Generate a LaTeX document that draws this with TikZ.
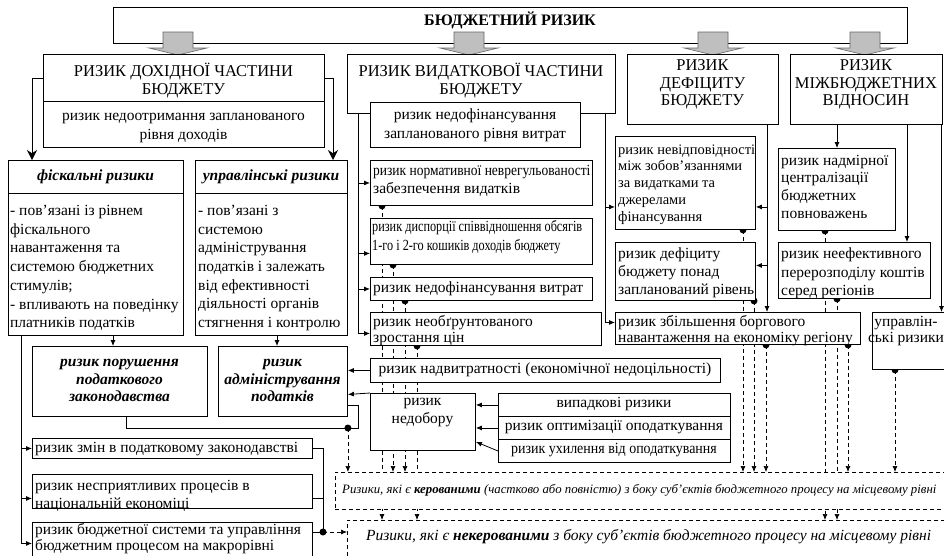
\documentclass[tikz,border=0pt]{standalone}
\usepackage{fontspec}
\setmainfont{Liberation Serif}
\usetikzlibrary{arrows.meta}
\pgfdeclarelayer{bg}
\pgfsetlayers{bg,main}
\newcommand\myfs[2]{\fontsize{#1}{#2}\selectfont}
\tikzset{
  bx/.style={draw=black, fill=white, line width=0.9pt, inner sep=0pt, anchor=north west},
  dbx/.style={bx, dash pattern=on 4pt off 3pt, line width=0.8pt},
  txl/.style={inner sep=0pt, anchor=west, align=left, font=\myfs{15.5}{18.5}},
  txc/.style={inner sep=0pt, anchor=center, align=center, font=\myfs{15.5}{18.5}},
  hd/.style={inner sep=0pt, anchor=center, align=center, font=\myfs{16.5}{17.5}},
  bi/.style={font=\bfseries\itshape\myfs{15.5}{17.5}},
  ln/.style={line width=0.8pt},
  arr/.style={ln, -{Latex[length=6pt,width=5pt]}},
  bigarr/.style={ln, -{Stealth[length=10pt,width=10pt]}},
  dln/.style={line width=0.7pt, dash pattern=on 4pt off 3pt},
  darr/.style={dln, -{Latex[length=6pt,width=5pt]}},
  blk/.style={fill=black!25, draw=black!60, line width=0.6pt},
}
\begin{document}
\begin{tikzpicture}[x=1pt,y=-1pt]
\useasboundingbox (0,0) rectangle (944,555);
\begin{pgfonlayer}{bg}
\fill[white] (0,0) rectangle (944,555);
\end{pgfonlayer}

% top box and block arrows
\node[bx, minimum width=794pt, minimum height=36pt] (T) at (113,7) {};
\foreach \cx in {178,469,713,865}
  \draw[blk] (\cx-15,32) -- (\cx+15,32) -- (\cx+15,48) -- (\cx+29,48) -- (\cx,55) -- (\cx-29,48) -- (\cx-15,48) -- cycle;

% level 2 boxes
\node[bx, minimum width=281pt, minimum height=47pt] (A) at (43,54) {};
\node[bx, minimum width=281pt, minimum height=46pt] (A2) at (43,101) {};
\node[bx, minimum width=268pt, minimum height=59pt] (B) at (347,54) {};
\node[bx, minimum width=210pt, minimum height=45pt] (B2) at (370,102) {};
\node[bx, minimum width=151pt, minimum height=70pt] (D) at (627,54) {};
\node[bx, minimum width=151.5pt, minimum height=70pt] (M) at (790,54) {};

% income side
\node[bx, minimum width=175pt, minimum height=33pt] (F1) at (8,160) {};
\node[bx, minimum width=175pt, minimum height=142pt] (F2) at (8,193) {};
\node[bx, minimum width=152pt, minimum height=33pt] (G1) at (195,160) {};
\node[bx, minimum width=152pt, minimum height=142pt] (G2) at (195,193) {};
\node[bx, minimum width=175pt, minimum height=70pt] (P) at (32,346) {};
\node[bx, minimum width=129pt, minimum height=70pt] (Q) at (218,346) {};
\node[bx, minimum width=280pt, minimum height=20pt] (L1) at (32,438) {};
\node[bx, minimum width=280pt, minimum height=34pt] (L2) at (32,474) {};
\node[bx, minimum width=280pt, minimum height=40pt] (L3) at (32,522) {};

% expenditure side
\node[bx, minimum width=222pt, minimum height=45pt] (N1) at (370,160) {};
\node[bx, minimum width=222pt, minimum height=46pt] (N2) at (370,218) {};
\node[bx, minimum width=222pt, minimum height=23pt] (N3) at (370,277) {};
\node[bx, minimum width=231pt, minimum height=33pt] (N4) at (370,312) {};
\node[bx, minimum width=350pt, minimum height=24pt] (H) at (370,358) {};
\node[bx, minimum width=105pt, minimum height=57pt] (K) at (370,393) {};
\node[bx, minimum width=232pt, minimum height=23pt] (R1) at (498,393) {};
\node[bx, minimum width=232pt, minimum height=23pt] (R2) at (498,416) {};
\node[bx, minimum width=232pt, minimum height=23pt] (R3) at (498,439) {};

% deficit and interbudget
\node[bx, minimum width=140pt, minimum height=93pt] (V1) at (615,136) {};
\node[bx, minimum width=140pt, minimum height=58pt] (V2) at (615,242) {};
\node[bx, minimum width=245pt, minimum height=32pt] (V3) at (615,312) {};
\node[bx, minimum width=117pt, minimum height=82pt] (W1) at (778,148) {};
\node[bx, minimum width=152pt, minimum height=56pt] (W2) at (778,242) {};
\node[bx, minimum width=80pt, minimum height=57pt] (U) at (872,312) {};

% dashed result boxes
\node[dbx, minimum width=620pt, minimum height=37pt] (KB) at (335,472) {};
\node[dbx, minimum width=610pt, minimum height=50pt] (NB) at (347,520) {};

% texts
\node[hd, font=\bfseries\myfs{16}{18}] (tT) at (510,20) {БЮДЖЕТНИЙ РИЗИК};
\node[hd] (tA) at (183.5,80.5) {РИЗИК ДОХІДНОЇ ЧАСТИНИ\\БЮДЖЕТУ};
\node[txc, font=\myfs{15.5}{19}] (tA2) at (183.5,127.5) {ризик недоотримання запланованого\\рівня доходів};
\node[hd] (tB) at (481,80.5) {РИЗИК ВИДАТКОВОЇ ЧАСТИНИ\\БЮДЖЕТУ};
\node[txc, font=\myfs{15.5}{19}] (tB2) at (475,125) {ризик недофінансування\\запланованого рівня витрат};
\node[hd] (tD) at (702.5,84.5) {РИЗИК\\ДЕФІЦИТУ\\БЮДЖЕТУ};
\node[hd] (tM) at (866,84.5) {РИЗИК\\МІЖБЮДЖЕТНИХ\\ВІДНОСИН};
\node[txc, bi] (tF1) at (95.5,177) {фіскальні ризики};
\node[txc, bi] (tG1) at (271,177) {управлінські ризики};
\node[txl, font=\myfs{15.5}{18.7}] (tF2) at (10,268) {- пов’язані із рівнем\\фіскального\\навантаження та\\системою бюджетних\\стимулів;\\- впливають на поведінку\\платників податків};
\node[txl, font=\myfs{15.5}{18.7}] (tG2) at (198,268) {- пов’язані з\\системою\\адміністрування\\податків і залежать\\від ефективності\\діяльності органів\\стягнення і контролю};
\node[txc, bi] (tP) at (119.5,380.5) {ризик порушення\\податкового\\законодавства};
\node[txc, bi] (tQ) at (282.5,380.5) {ризик\\адміністрування\\податків};
\node[txl] (tL1) at (35,449) {ризик змін в податковому законодавстві};
\node[txl, font=\myfs{15.5}{18}] (tL2) at (35,496) {ризик несприятливих процесів в\\національній економіці};
\node[txl, font=\myfs{15.5}{16.5}] (tL3) at (35,538.5) {ризик бюджетної системи та управління\\бюджетним процесом на макрорівні};
\node[txl, font=\myfs{15.5}{18}] (tN1) at (373,181) {\scalebox{0.87}[1]{ризик нормативної неврегульованості}\\забезпечення видатків};
\node[txl, font=\myfs{15.5}{19}] (tN2) at (372,237.5) {\scalebox{0.79}[1]{ризик диспорції співвідношення обсягів}\\\scalebox{0.79}[1]{1-го і 2-го кошиків доходів бюджету}};
\node[txl] (tN3) at (373,289) {ризик недофінансування витрат};
\node[txl, font=\myfs{15.5}{16}] (tN4) at (373,331) {ризик необґрунтованого\\зростання цін};
\node[txc] (tH) at (545,370) {ризик надвитратності (економічної недоцільності)};
\node[txc, font=\myfs{15.5}{18}] (tK) at (422.5,413) {ризик\\недобору};
\node[txc] (tR1) at (614,404.5) {випадкові ризики};
\node[txc] (tR2) at (614,427.5) {ризик оптимізації оподаткування};
\node[txc] (tR3) at (614,450.5) {\scalebox{0.9}[1]{ризик ухилення від оподаткування}};
\node[txl, font=\myfs{14.5}{16.8}] (tV1) at (618,184.5) {ризик невідповідності\\між зобов’язаннями\\за видатками та\\джерелами\\фінансування};
\node[txl, font=\myfs{15.5}{18}] (tV2) at (618,273) {ризик дефіциту\\бюджету понад\\запланований рівень};
\node[txl, font=\myfs{15.5}{16}] (tV3) at (618,331) {ризик збільшення боргового\\навантаження на економіку регіону};
\node[txl, font=\myfs{15.5}{17.7}] (tW1) at (781,186.5) {ризик надмірної\\централізації\\бюджетних\\повноважень};
\node[txl, font=\myfs{15.5}{18.5}] (tW2) at (781,273.5) {ризик неефективного\\перерозподілу коштів\\серед регіонів};
\node[txc, font=\myfs{15.5}{16}] (tU) at (906,331) {управлін-\\ські ризики};
\node[txl, font=\itshape\myfs{12.8}{15}] (tKB) at (342,490.5) {Ризики, які є \textbf{керованими} (частково або повністю) з боку суб’єктів бюджетного процесу на місцевому рівні};
\node[txl, font=\itshape\myfs{15.5}{18}] (tNB) at (366,537) {Ризики, які є \textbf{некерованими} з боку суб’єктів бюджетного процесу на місцевому рівні};

% column coordinates
\coordinate (c1) at (32,0);
\coordinate (c2) at (333,0);
\coordinate (c3) at (113,0);
\coordinate (c4) at (277,0);
\coordinate (c5) at (21,0);
\coordinate (c6) at (126,0);
\coordinate (c7) at (358,428);
\coordinate (c8) at (358,0);
\coordinate (c9) at (605,0);
\coordinate (c10) at (767,0);
\coordinate (c11) at (837,0);
\coordinate (c12) at (907,0);
\coordinate (c13) at (941.5,0);

% dot points
\coordinate (d1) at ([xshift=12pt]N1.south west);
\coordinate (d2) at ([xshift=23pt]N2.south west);
\coordinate (d3) at ([xshift=35pt]N3.south west);
\coordinate (d4) at ([xshift=47pt]N4.south west);
\coordinate (d5) at ([xshift=128pt]V1.south west);
\coordinate (d6) at ([xshift=139pt]V2.south west);
\coordinate (d7) at ([xshift=151pt]V3.south west);
\coordinate (d8) at ([xshift=233pt]V3.south west);
\coordinate (d9) at ([xshift=47pt]W1.south west);
\coordinate (d10) at ([xshift=59pt]W2.south west);
\coordinate (d11) at ([xshift=23pt]U.south west);
\coordinate (d12) at (Q.east |- c7);
\coordinate (d13) at (323,532);

% dashed links behind the boxes
\begin{pgfonlayer}{bg}
\foreach \d in {d1,d4,d9,d10} \draw[darr] (\d) -- (\d |- NB.north);
\foreach \d in {d2,d3,d5,d6,d7,d8,d11,d12} \draw[darr] (\d) -- (\d |- KB.north);
\foreach \d in {d1,d2,d3,d4,d5,d6,d7,d8,d9,d10,d11} \fill (\d) circle (3.5pt);
\end{pgfonlayer}
\draw[darr] (d13) -- (d13 -| NB.west);

% solid connectors
\draw[bigarr] (A.west) -| (c1 |- F1.north);
\draw[bigarr] (A.east) -| (c2 |- G1.north);
\draw[arr] (c3 |- F2.south) -- (c3 |- P.north);
\draw[arr] (c4 |- G2.south) -- (c4 |- Q.north);
\coordinate (l2w) at ([yshift=-7pt]L2.west);
\coordinate (l3w) at ([yshift=-1pt]L3.west);
\draw[arr] (c5 |- F2.south) |- (l3w);
\draw[arr] (c5 |- L1.west) -- (L1.west);
\draw[arr] (c5 |- l2w) -- (l2w);
\draw[ln] (L1.east) -| (d13);
\draw[ln] ([yshift=-7pt]L2.east) -| (d13);
\draw[ln] (d13 -| L3.east) -- (d13);
\fill (d13) circle (3.5pt);

\draw[ln] (c6 |- P.south) |- (c7) |- ([yshift=-24pt]Q.east);
\fill (d12) circle (3.5pt);
\draw[arr] (H.west) -- (Q.east |- H.west);
\draw[arr] (K.north west) -- ([yshift=-13pt]Q.east);
\draw[arr] (R1.west) -- (K.east |- R1.west);
\draw[arr] (R2.west) -- (K.east |- R2.west);
\draw[arr] (R3.west) -- ([yshift=9pt]K.south east);

\coordinate (n2a) at ([yshift=-12pt]N2.west);
\draw[arr] (c8 |- B.south) |- ([yshift=-4.5pt]N4.west);
\draw[arr] (c8 |- N1.west) -- (N1.west);
\draw[arr] (c8 |- n2a) -- (n2a);
\draw[arr] (c8 |- N3.west) -- (N3.west);

\coordinate (v1a) at ([yshift=-24pt]V1.west);
\draw[arr] (c9 |- B.south) |- ([yshift=6pt]V3.west);
\draw[arr] (c9 |- v1a) -- (v1a);

\coordinate (v1b) at ([yshift=-24pt]V1.east);
\coordinate (v2b) at ([yshift=6pt]V2.east);
\draw[arr] (c10 |- D.south) -- (c10 |- V3.north);
\draw[arr] (c10 |- v1b) -- (v1b);
\draw[arr] (c10 |- v2b) -- (v2b);

\draw[arr] (c11 |- M.south) -- (c11 |- W1.north);
\draw[arr] (c12 |- M.south) -- (c12 |- W2.north);
\draw[arr] (c13 |- M.south) -- (c13 |- U.north);
\end{tikzpicture}
\end{document}
